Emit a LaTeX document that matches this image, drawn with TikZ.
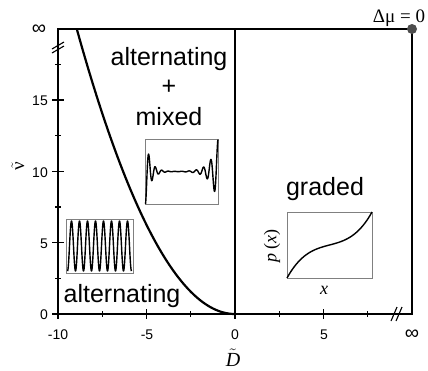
\documentclass[tikz,border=0pt]{standalone}
\usepackage{fontspec}
\setmainfont{Liberation Serif}
\newfontfamily\arialf{Liberation Sans}
\definecolor{dotgray}{HTML}{4D4D4D}
\definecolor{boxgray}{HTML}{808080}
\begin{document}
\begin{tikzpicture}[x=1pt,y=-1pt,
  axis/.style={line width=1.3pt},
  tick/.style={line width=1.1pt},
  curve/.style={line width=2.2pt},
  insetbox/.style={draw=boxgray,line width=0.8pt},
  insetcurve/.style={line width=1.4pt,line join=round},
  region/.style={font=\arialf\fontsize{25}{29}\selectfont,inner sep=0pt},
  ticklbl/.style={font=\arialf\fontsize{14}{16}\selectfont,inner sep=0pt},
  inflbl/.style={font=\arialf\fontsize{20}{22}\selectfont,inner sep=0pt},
  serif/.style={font=\fontsize{19}{21}\selectfont,inner sep=0pt}]
\useasboundingbox (0,0) rectangle (428,370);
% frame
\draw[axis] (58,29) rectangle (412,314);
\draw[line width=2pt] (235,29) -- (235,314);
% x ticks
\foreach \d in {-10,-5,0,5} \draw[tick] ({235+17.7*\d},309) -- ({235+17.7*\d},319);
\foreach \d in {-7.5,-2.5,2.5,7.5} \draw[tick] ({235+17.7*\d},311) -- ({235+17.7*\d},317);
% y ticks
\foreach \v in {0,5,10,15} \draw[tick] (52,{314-14.27*\v}) -- (64,{314-14.27*\v});
\foreach \v in {2.5,7.5,12.5,17.5} \draw[tick] (55,{314-14.27*\v}) -- (61,{314-14.27*\v});
% break marks
\draw[tick] (52,49) -- (64,42);
\draw[tick] (52,53) -- (64,46);
\draw[tick] (391,321) -- (397,307);
\draw[tick] (396,321) -- (402,307);
% boundary curve
\draw[curve] plot[domain=-8.94:0,samples=90,smooth] ({235+17.7*\x},{314-14.27*\x*\x/4});
% corner dot
\fill[dotgray] (412,29) circle (5);
% tick labels
\node[ticklbl,anchor=east] (y0) at (48,315) {0};
\node[ticklbl,anchor=east] (y5) at (48,{315-14.27*5}) {5};
\node[ticklbl,anchor=east] (y10) at (48,{315-14.27*10}) {10};
\node[ticklbl,anchor=east] (y15) at (48,{315-14.27*15}) {15};
\node[inflbl] (yinf) at (39,30) {∞};
\node[ticklbl] (xm10) at (58,335) {-10};
\node[ticklbl] (xm5) at (147,335) {-5};
\node[ticklbl] (x0) at (235,335) {0};
\node[ticklbl] (x5) at (324,335) {5};
\node[inflbl] (xinf) at (412,335) {∞};
% axis titles
\node[serif,font=\fontsize{20}{22}\selectfont] (Dlab) at (233,358) {$\tilde{\hbox{\itshape D}}$};
\node[serif,rotate=90] (nulab) at (18,166) {$\tilde{\hbox{\rmfamily ν}}$};
\node[serif,anchor=base] (dmu) at (399,22) {Δμ = 0};
% region labels
\node[region,anchor=base] (altTop) at (169,65) {alternating};
\node[region] (plus) at (169,87) {+};
\node[region,anchor=base] (mixed) at (169,125) {mixed};
\node[region,anchor=base] (altBot) at (122,302) {alternating};
\node[region,anchor=base] (graded) at (325,195) {graded};
% inset: alternating
\draw[insetbox] (66,219) rectangle (133,273);
\draw[insetcurve] plot[domain=0:1,samples=260] ({67.5+64*\x},{271-50*(0.5-0.5*cos(8*360*\x))});
% inset: mixed
\draw[insetbox] (145,139) rectangle (218,204);
\draw[insetcurve] plot[domain=0:1,samples=400] ({145.5+72.5*\x},{204-65*(0.5-0.5*exp(-\x/0.07)*cos(4000*\x)+0.5*exp(-(1-\x)/0.1)*cos(3600*(1-\x)))});
% inset: graded
\draw[insetbox] (287,212) rectangle (372,278);
\draw[insetcurve] plot[domain=-1:1,samples=80,smooth] ({287+42.5*(\x+1)},{278-66*(0.5+0.17*\x+0.33*\x*\x*\x)});
\node[serif,rotate=90,font=\fontsize{18}{20}\selectfont] (plab) at (272,246) {\itshape p\upshape\ (\itshape x\upshape )};
\node[serif,font=\fontsize{18}{20}\selectfont] (xlab) at (324,290) {\itshape x};
\end{tikzpicture}
\end{document}
